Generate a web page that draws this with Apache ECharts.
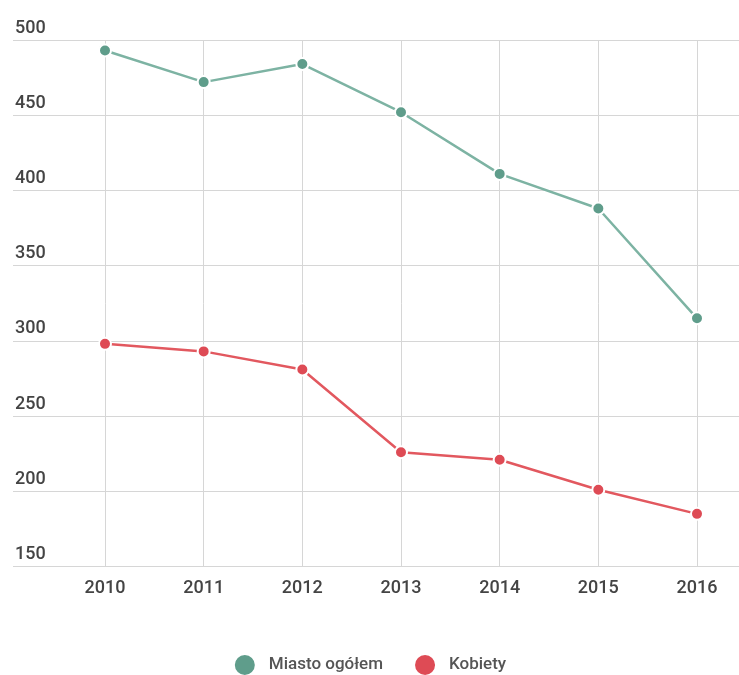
<!DOCTYPE html>
<html>
<head>
<meta charset="utf-8">
<script src="https://cdn.jsdelivr.net/npm/echarts@6/dist/echarts.min.js"></script>
<style>
html,body{margin:0;padding:0;background:#fff;}
#chart{width:739px;height:675px;}
</style>
</head>
<body>
<div id="chart"></div>
<script>
const years = ['2010','2011','2012','2013','2014','2015','2016'];
const miastoOgolem = [493, 472, 484, 452, 411, 388, 315];
const kobiety = [298, 293, 281, 226, 221, 201, 185];
const yMin = 150, yMax = 500, yStep = 50;

const chart = echarts.init(document.getElementById('chart'));
const font = 'Roboto, "Noto Sans", sans-serif';
const gridColor = '#d6d6d6';

chart.setOption({
  backgroundColor: '#fff',
  animation: false,
  textStyle: { fontFamily: font },
  grid: [
    { left: 13, right: 0, top: 40, bottom: 108.5 },
    { left: 105, right: 42, top: 40, bottom: 108.5 }
  ],
  legend: {
    top: 653,
    left: 'center',
    padding: 0,
    icon: 'circle',
    itemWidth: 22,
    itemHeight: 22,
    itemGap: 30,
    textStyle: { fontSize: 17, color: '#555', fontFamily: font, fontWeight: 500, padding: [0, 0, 0, 8] },
    data: ['Miasto ogółem', 'Kobiety']
  },
  xAxis: [
    { gridIndex: 0, type: 'value', min: 0, max: 1, show: false },
    {
      gridIndex: 1, type: 'category', data: years, boundaryGap: false,
      axisLine: { show: false }, axisTick: { show: false },
      axisLabel: { color: '#444', fontSize: 18, fontWeight: 500, margin: 13, fontFamily: font },
      splitLine: { show: true, lineStyle: { color: gridColor, width: 1 } }
    }
  ],
  yAxis: [
    {
      gridIndex: 0, type: 'value', min: yMin, max: yMax, interval: yStep,
      axisLine: { show: false }, axisTick: { show: false },
      axisLabel: {
        inside: true, margin: 2, color: '#444', fontSize: 18, fontWeight: 500,
        verticalAlign: 'bottom', padding: [0, 0, 3, 0], fontFamily: font
      },
      splitLine: { show: true, lineStyle: { color: gridColor, width: 1 } }
    },
    {
      gridIndex: 1, type: 'value', min: yMin, max: yMax, interval: yStep,
      show: false, splitLine: { show: false }
    }
  ],
  series: [
    {
      name: 'Miasto ogółem', type: 'line', xAxisIndex: 1, yAxisIndex: 1,
      data: miastoOgolem, symbol: 'circle', symbolSize: 12,
      lineStyle: { color: '#7db3a3', width: 2.5 },
      itemStyle: { color: '#5f9d8b', borderColor: '#fff', borderWidth: 2 }
    },
    {
      name: 'Kobiety', type: 'line', xAxisIndex: 1, yAxisIndex: 1,
      data: kobiety, symbol: 'circle', symbolSize: 12,
      lineStyle: { color: '#e2585f', width: 2.5 },
      itemStyle: { color: '#de4b55', borderColor: '#fff', borderWidth: 2 }
    }
  ]
});
</script>
</body>
</html>
